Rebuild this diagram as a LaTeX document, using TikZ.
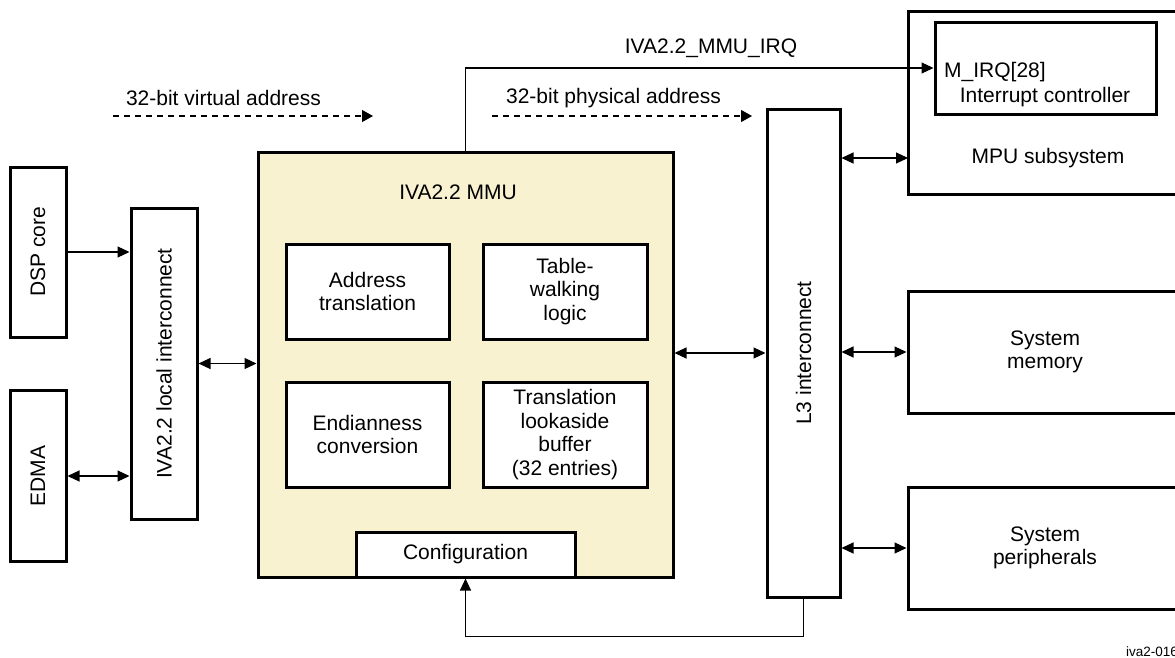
\documentclass[tikz,border=0pt]{standalone}
\usepackage{fontspec}
\setmainfont{Liberation Sans}
\usetikzlibrary{arrows.meta}
\definecolor{mmufill}{RGB}{248,242,208}
\begin{document}
\begin{tikzpicture}[x=1pt,y=-1pt,
  box/.style={draw, line width=3pt, fill=white, inner sep=0pt, align=center, font=\fontsize{21}{23.5}\selectfont},
  txt/.style={inner sep=0pt, align=center, font=\fontsize{21}{23.5}\selectfont},
  smalltxt/.style={inner sep=0pt, font=\fontsize{13.5}{15}\selectfont},
  arr/.style={line width=1.1pt, -{Triangle[length=12pt,width=11pt]}},
  darr/.style={line width=1.1pt, {Triangle[length=12pt,width=11pt]}-{Triangle[length=12pt,width=11pt]}},
  dasharr/.style={line width=1.2pt, dash pattern=on 6pt off 5pt, -{Triangle[length=11pt,width=12pt]}}
]
\useasboundingbox (0,0) rectangle (1175,657);
\clip (0,0) rectangle (1175,657);

% left blocks
\node[box, minimum width=56, minimum height=170] (dsp) at (38,252) {};
\node[txt, rotate=90] (dsptxt) at (dsp.center) {DSP core};
\node[box, minimum width=56, minimum height=171] (edma) at (38,476) {};
\node[txt, rotate=90] (edmatxt) at (edma.center) {EDMA};
\node[box, minimum width=66, minimum height=311] (local) at (164,363.5) {};
\node[txt, rotate=90] (localtxt) at (local.center) {IVA2.2 local interconnect};

% MMU
\node[box, fill=mmufill, minimum width=415, minimum height=425] (mmu) at (465.5,364.5) {};
\node[txt] (mmutxt) at (458,192) {IVA2.2 MMU};
\node[box, minimum width=163, minimum height=95] (addr) at (367.5,291.5) {Address\\translation};
\node[box, minimum width=164, minimum height=95] (table) at (565,291.5) {Table-\\walking\\logic};
\node[box, minimum width=163, minimum height=105] (endian) at (367.5,434.5) {Endianness\\conversion};
\node[box, minimum width=164, minimum height=105] (tlb) at (565,434.5) {Translation\\lookaside\\buffer\\(32 entries)};
\node[box, minimum width=219, minimum height=45] (config) at (465.5,554.5) {Configuration};

% L3
\node[box, minimum width=73, minimum height=488] (l3) at (803.5,353) {};
\node[txt, rotate=90] (l3txt) at (l3.center) {L3 interconnect};

% right blocks
\node[box, minimum width=280, minimum height=183] (mpu) at (1048,102.5) {};
\node[box, minimum width=221, minimum height=92] (irqc) at (1045.5,68) {};
\node[txt, anchor=west] (mirq) at (944,72) {M\_IRQ[28]};
\node[txt] (irqctxt) at (1045,97) {Interrupt controller};
\node[txt] (mputxt) at (1048,158) {MPU subsystem};
\node[box, minimum width=274, minimum height=122] (sysmem) at (1045,352) {System\\memory};
\node[box, minimum width=274, minimum height=122] (sysper) at (1045,548) {System\\peripherals};

% labels
\node[txt] (valbl) at (223.5,98) {32-bit virtual address};
\node[txt] (palbl) at (613.5,98) {32-bit physical address};
\node[txt] (irqlbl) at (711,48) {IVA2.2\_MMU\_IRQ};
\node[smalltxt, anchor=west] (figid) at (1126,652) {iva2-016};

% coordinates
\coordinate (va1) at (113,116);
\coordinate (va2) at (373,116);
\coordinate (pa1) at (492,116);
\coordinate (pa2) at (752,116);
\coordinate (mpuport) at (908,158);

% connectors
\draw[arr] (dsp.east) -- (dsp.east -| local.west);
\draw[darr] (edma.east) -- (edma.east -| local.west);
\draw[darr] (local.east) -- (local.east -| mmu.west);
\draw[darr] (mmu.east |- l3.west) -- (l3.west);
\draw[darr] (l3.east |- mpuport) -- (mpuport);
\draw[darr] (l3.east |- sysmem.west) -- (sysmem.west);
\draw[darr] (l3.east |- sysper.west) -- (sysper.west);
\draw[arr] (mmu.north) |- (irqc.west);
\draw[arr] (l3.south) -- ++(0,38) -| (config.south);
\draw[dasharr] (va1) -- (va2);
\draw[dasharr] (pa1) -- (pa2);
\end{tikzpicture}
\end{document}
